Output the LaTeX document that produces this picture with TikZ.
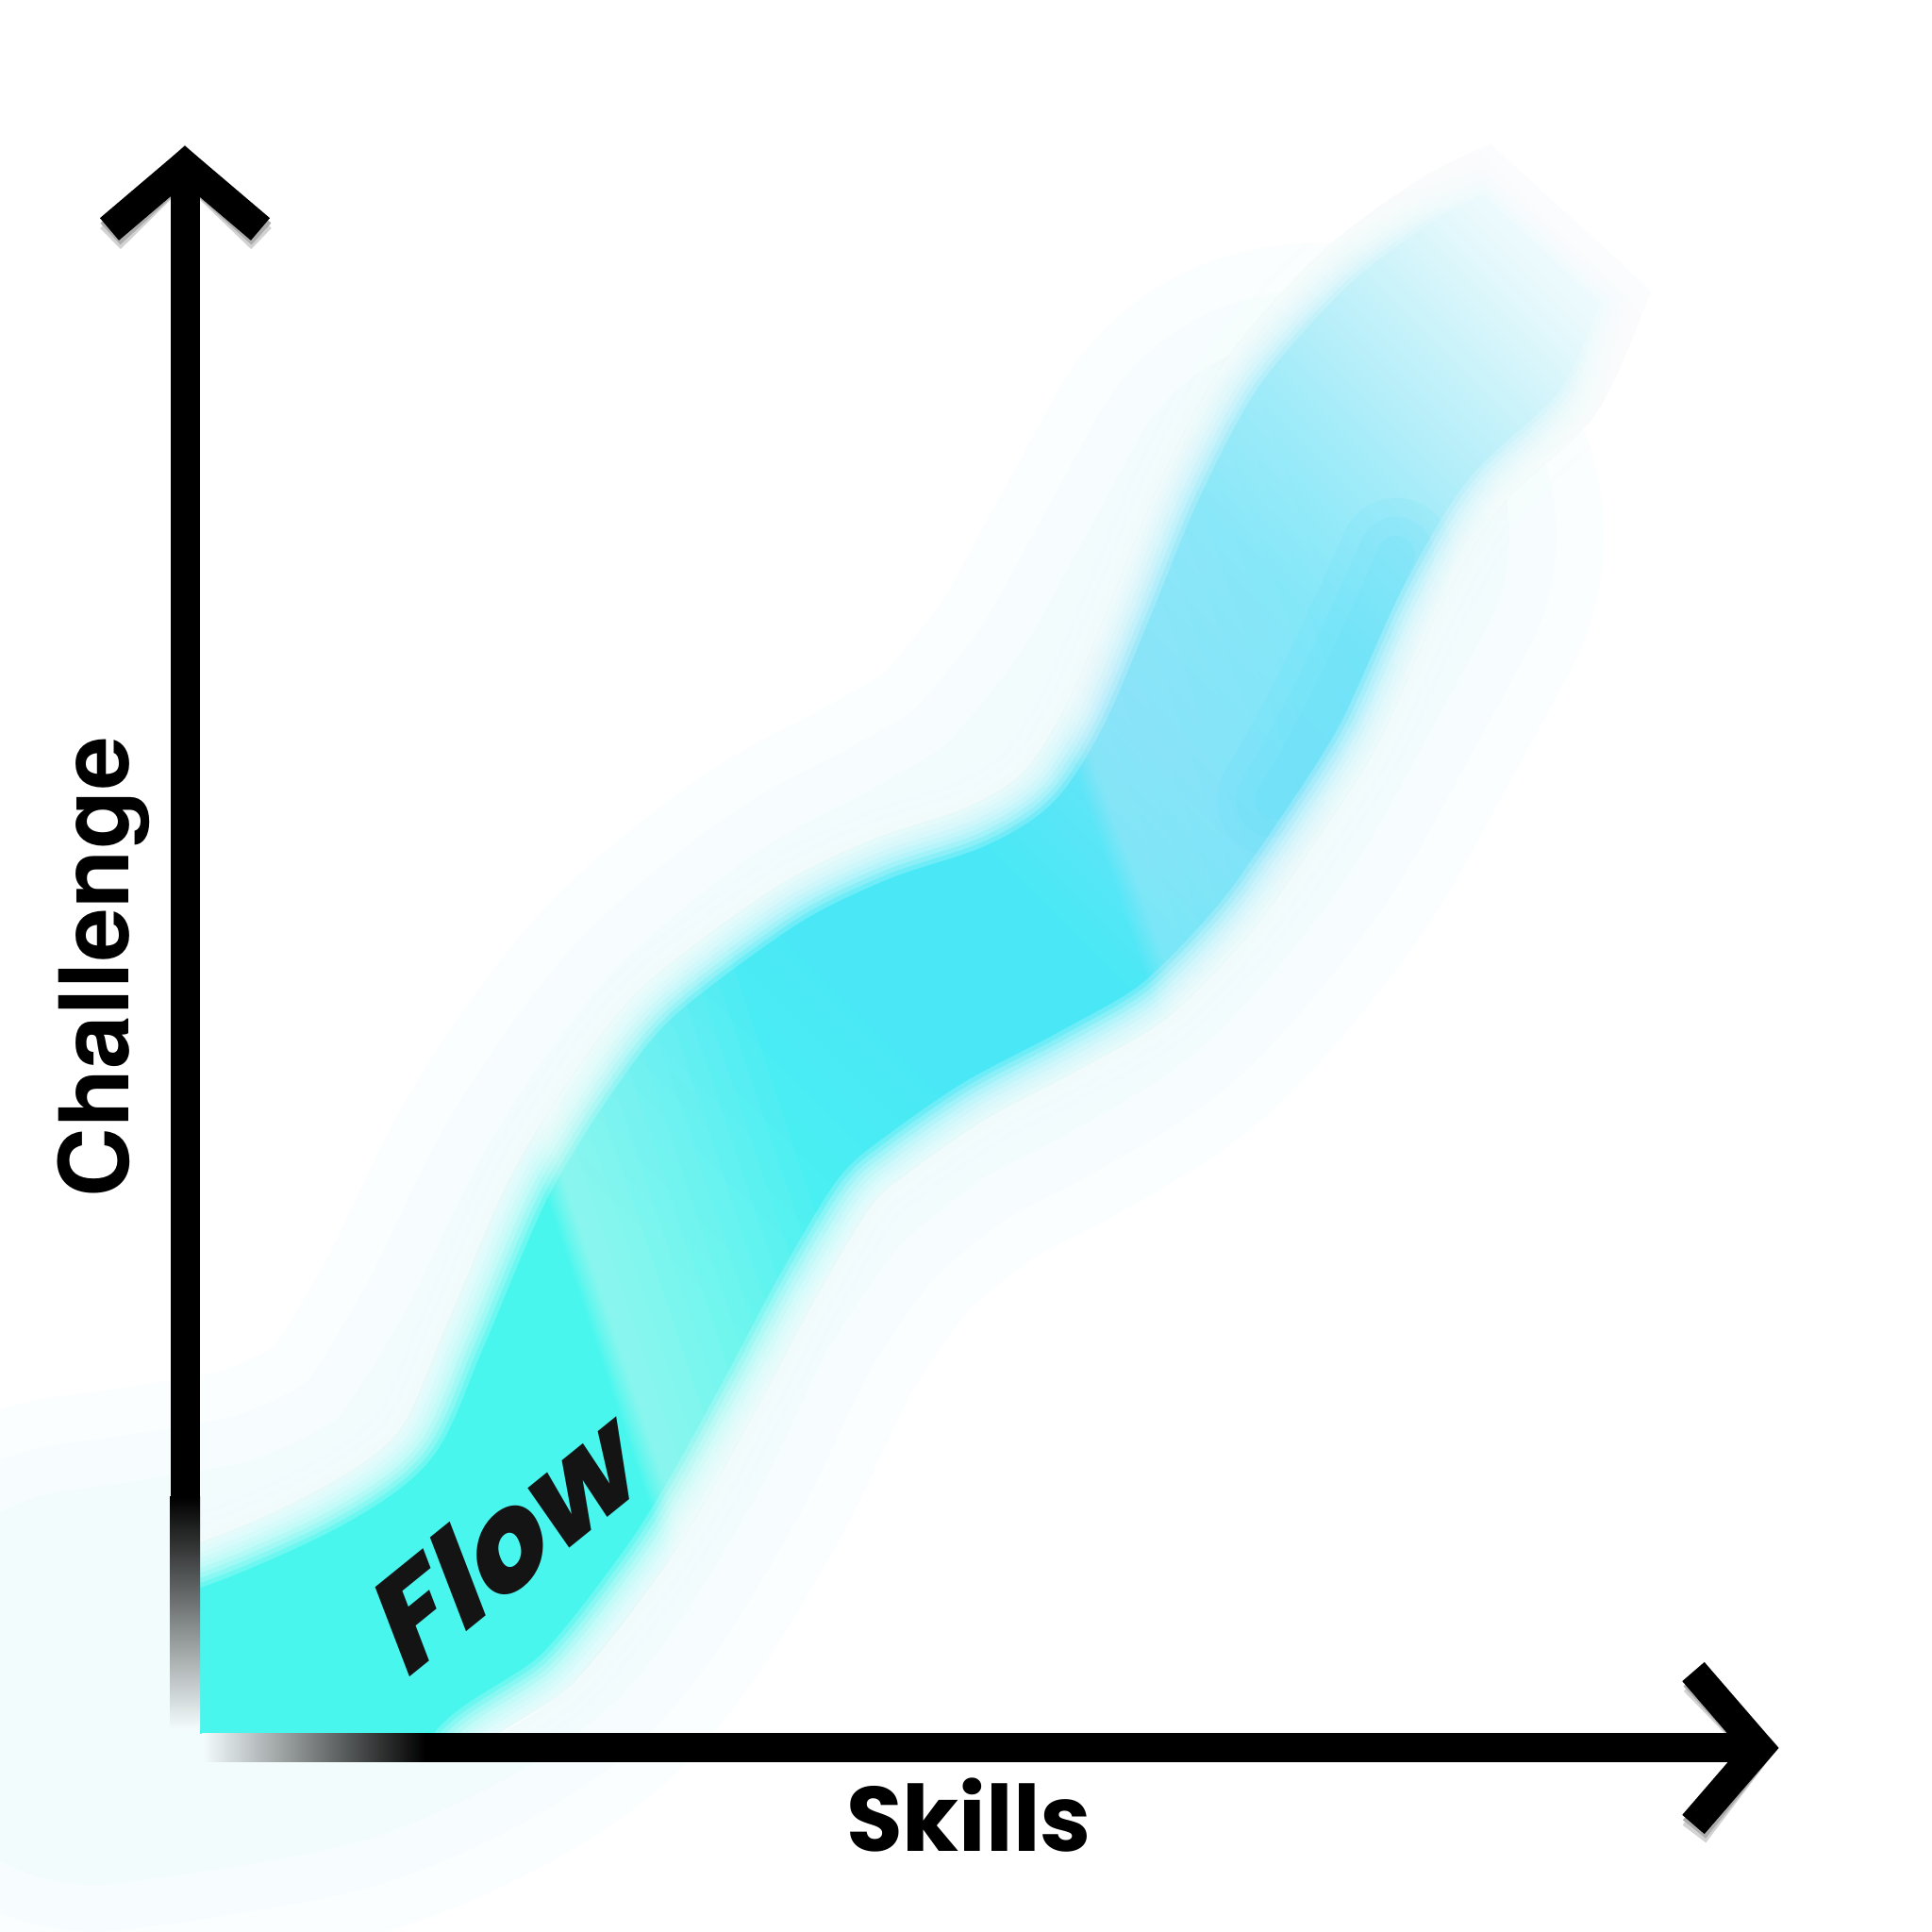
\documentclass[tikz,border=0pt]{standalone}
\usepackage{fontspec}
\newfontfamily\herosfont{TeX Gyre Heros}
\newfontfamily\popfont{Poppins}
\IfFontExistsTF{Poppins ExtraBold}{\newfontfamily\flowfont{Poppins ExtraBold}}{\def\flowfont{\popfont\bfseries}}
\definecolor{aquaA}{RGB}{72,246,238}
\definecolor{aquaB}{RGB}{74,232,246}
\definecolor{skyC}{RGB}{110,227,248}
\definecolor{skyC2}{RGB}{128,231,248}
\definecolor{skyD}{RGB}{168,236,249}
\definecolor{paleE}{RGB}{204,243,250}
\definecolor{paleF}{RGB}{232,249,252}
\definecolor{streak}{RGB}{80,222,248}
\definecolor{halo}{RGB}{200,244,248}
\definecolor{fadeend}{RGB}{244,252,253}
\definecolor{ink}{RGB}{20,20,20}
\usetikzlibrary{calc}

% colour along the ribbon, bottom left to top right
\pgfdeclarehorizontalshading{bandgrad}{100bp}{color(0bp)=(aquaA); color(40bp)=(aquaA); color(50bp)=(aquaB); color(56bp)=(aquaB); color(62bp)=(skyC); color(68bp)=(skyC2); color(73bp)=(skyD); color(77bp)=(paleE); color(80bp)=(paleF); color(84bp)=(white); color(100bp)=(white)}

% outline of the flow ribbon
\def\bandpath{plot[smooth] coordinates {(0.60,3.70) (2.05,4.10) (3.40,4.70) (4.22,5.30) (4.70,6.35) (5.40,7.98) (6.13,9.17) (6.85,10.05) (8.22,11.07) (9.25,11.58) (10.25,11.92) (10.85,12.30) (11.30,13.00) (11.78,14.12) (12.30,15.38) (12.98,16.65) (14.00,17.80) (15.05,18.58) (15.80,18.95)}
  -- plot[smooth] coordinates {(17.50,17.40) (16.92,16.10) (15.92,15.12) (15.25,14.00) (14.62,12.62) (14.03,11.68) (13.26,10.60) (12.38,9.70) (11.45,9.15) (10.45,8.62) (9.60,8.03) (9.22,7.68) (8.65,6.73) (8.08,5.66) (7.45,4.52) (6.92,3.70) (6.03,2.60) (4.98,1.86) (4.62,0.95)}
  -- (0.60,0.95) -- cycle}
% the same ribbon, only inside the axes, kept free of glow
\def\bandcore{plot[smooth] coordinates {(2.12,4.12) (3.40,4.70) (4.22,5.30) (4.70,6.35) (5.40,7.98) (6.13,9.17) (6.85,10.05) (8.22,11.07) (9.25,11.58) (10.25,11.92) (10.85,12.30) (11.30,13.00) (11.78,14.12) (12.30,15.38) (12.98,16.65) (14.00,17.80) (15.05,18.58) (15.80,18.95)}
  -- plot[smooth] coordinates {(17.50,17.40) (16.92,16.10) (15.92,15.12) (15.25,14.00) (14.62,12.62) (14.03,11.68) (13.26,10.60) (12.38,9.70) (11.45,9.15) (10.45,8.62) (9.60,8.03) (9.22,7.68) (8.65,6.73) (8.08,5.66) (7.45,4.52) (6.92,3.70) (6.03,2.60) (5.30,2.10)}
  -- (2.12,2.10) -- cycle}
% middle line of the ribbon, for the glow
\def\flowline{plot[smooth] coordinates {(1.0,2.6) (3.3,3.0) (5.0,3.9) (6.1,5.5) (7.0,7.3) (8.0,8.7) (9.2,9.7) (10.3,10.3) (11.4,11.0) (12.5,12.3) (13.3,13.7) (13.9,14.8)}}

\begin{document}
\begin{tikzpicture}[
    axis/.style={line width=0.31cm},
    tip/.style={line width=0.31cm, line join=miter, miter limit=10},
    shade1/.style={gray!35},
    shade2/.style={gray!65},
    lbl/.style={inner sep=0pt, text=black}
  ]
  \useasboundingbox (0,0) rectangle (20.48,20.48);
  \coordinate (O) at (1.96,1.95);
  \coordinate (ytip) at (1.96,18.73);
  \coordinate (xtip) at (18.65,1.95);
  \coordinate (ysolid) at (1.96,4.60);
  \coordinate (xsolid) at (4.50,1.95);

  % the ribbon itself
  \begin{scope}
    \clip (2.12,2.10) rectangle (20.48,20.48);
    \shade[shading=bandgrad, shading angle=45] \bandpath;
    \begin{scope}
      \clip \bandpath;
      % lower fold
      \begin{scope}[shift={(7.05,4.81)}, rotate=18.4]
        \foreach \k in {1,...,12}
          \fill[white, opacity=0.04] (-0.02*\k,-2) rectangle (0.2*\k,6);
      \end{scope}
      % upper fold
      \begin{scope}[shift={(12.40,10.16)}, rotate=19]
        \foreach \k in {1,...,12}
          \fill[white, opacity=0.024] (-0.02*\k,-2) rectangle (0.24*\k,6);
      \end{scope}
      % darker streak in the upper part
      \foreach \w in {1.2,0.8,0.4}
        \draw[streak, line width=\w cm, opacity=0.1, line cap=round] (13.5,12.0) .. controls (14.0,12.8) and (14.4,13.7) .. (14.8,14.6);
    \end{scope}
    % blurred rim
    \foreach \w in {0.9,0.8,...,0.1}
      \draw[white, line width=\w cm, opacity=0.2] \bandpath;
  \end{scope}

  % soft glow round the ribbon, kept off the ribbon itself
  \begin{scope}[even odd rule]
    \clip (-1,-1) rectangle (22,22) \bandcore;
    \foreach \w/\o in {6.2/0.07, 5.2/0.08, 4.2/0.1}
      \draw[halo, line width=\w cm, opacity=\o, line cap=round, line join=round] \flowline;
  \end{scope}

  % drop shadows of the axes
  \foreach \s/\dy in {shade1/-0.10, shade2/-0.05} {
    \begin{scope}[shift={(0.01,\dy)}]
      \draw[\s, axis] (xsolid) -- (xtip);
      \draw[\s, tip] (17.95,2.76) -- (xtip) -- (17.95,1.14);
      \draw[\s, tip] (1.16,18.05) -- (ytip) -- (2.76,18.05);
    \end{scope}
  }

  % axes, fading out at the origin
  \shade[top color=black, bottom color=fadeend] (1.80,2.14) rectangle (2.12,4.61);
  \shade[left color=fadeend, right color=black] (2.14,1.80) rectangle (4.51,2.10);
  \draw[axis] (ysolid) -- (ytip);
  \draw[axis] (xsolid) -- (xtip);
  \draw[tip] (1.16,18.05) -- (ytip) -- (2.76,18.05);
  \draw[tip] (17.95,2.76) -- (xtip) -- (17.95,1.14);

  % labels
  \node[lbl, rotate=90, anchor=base, font=\herosfont\bfseries\fontsize{29}{30}\selectfont] (challenge) at (1.36,10.23) {Challenge};
  \node[lbl, anchor=base, font=\popfont\bfseries\fontsize{27.6}{28}\selectfont] (skills) at (10.27,0.85) {Skills};
  \node[inner sep=0pt, text=ink, anchor=base, cm={0.738,0.598,-0.358,0.934,(0,0)}, transform shape, font=\flowfont\fontsize{41}{42}\selectfont] (flow) at (5.56,3.68) {Flow};
\end{tikzpicture}
\end{document}
